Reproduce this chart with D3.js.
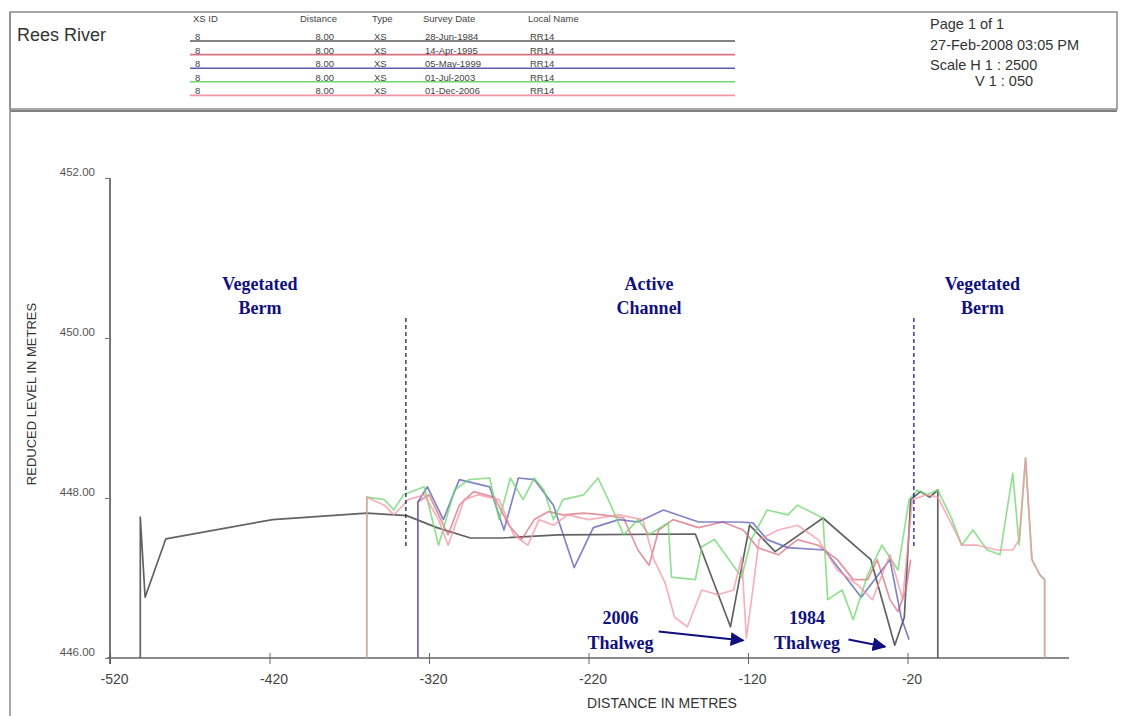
<!DOCTYPE html>
<html>
<head>
<meta charset="utf-8">
<script src="https://cdn.jsdelivr.net/npm/d3@7"></script>
<style>
  body { margin: 0; background: #fff; }
  svg { display: block; }
</style>
</head>
<body>
<div id="container"></div>
<script>
/* CONSTANTS AND GLOBALS */
const width = 1121,
      height = 716,
      margin = {top: 178, left: 110, bottom: 58, right: 49};

/* DATA */
const surveys = ["28-Jun-1984", "14-Apr-1995", "05-May-1999", "01-Jul-2003", "01-Dec-2006"];
const seriesColors = ["#5a5a5a", "#d9707f", "#5a5ab4", "#6fd56f", "#f295a4"];
const xsIds = ["8", "8", "8", "8", "8"];
const xsDistance = ["8.00", "8.00", "8.00", "8.00", "8.00"];
const xsType = ["XS", "XS", "XS", "XS", "XS"];
const localNames = ["RR14", "RR14", "RR14", "RR14", "RR14"];

const xTicks = [-520, -420, -320, -220, -120, -20];
const yTicks = [446, 448, 450, 452];

// 1984 survey
const dist1984 = [-501, -501, -498, -485, -418, -359, -334, -315, -294, -275, -239, -153, -131, -119, -103, -73, -43, -28, -22, -18, -12, -6, -1, -1];
const elev1984 = [446.00, 447.76, 446.76, 447.49, 447.73, 447.81, 447.78, 447.63, 447.50, 447.50, 447.54, 447.55, 446.39, 447.66, 447.33, 447.75, 447.23, 446.16, 446.51, 447.98, 448.08, 448.01, 448.10, 446.00];

// 1995 survey
const dist1995 = [-327, -327, -320, -314, -308, -301, -292, -279, -270, -262, -254, -245, -236, -223, -211, -198, -189, -182, -176, -167, -151, -136, -123, -114, -101, -89, -76, -64, -54, -45, -39, -31, -26, -21, -18];
const elev1995 = [446.00, 447.95, 448.04, 447.79, 447.54, 447.91, 448.08, 448.01, 447.66, 447.48, 447.73, 447.83, 447.79, 447.81, 447.79, 447.75, 447.35, 447.16, 447.60, 447.73, 447.63, 447.70, 447.60, 447.38, 447.29, 447.48, 447.41, 447.23, 446.98, 446.98, 447.23, 446.73, 446.58, 446.85, 447.23];

// 1999 survey
const dist1999 = [-327, -327, -321, -311, -301, -282, -273, -264, -254, -242, -229, -217, -201, -189, -173, -151, -126, -117, -108, -95, -72, -49, -31, -24, -19];
const elev1999 = [446.00, 447.95, 448.14, 447.73, 448.23, 448.14, 447.60, 448.25, 448.23, 447.91, 447.13, 447.63, 447.73, 447.70, 447.85, 447.70, 447.70, 447.69, 447.48, 447.38, 447.35, 446.76, 447.23, 446.51, 446.23];

// 2003 survey
const dist2003 = [-359, -359, -348, -342, -336, -323, -314, -304, -295, -282, -276, -269, -261, -254, -248, -242, -236, -223, -214, -206, -198, -189, -182, -170, -168, -153, -149, -141, -124, -118, -108, -95, -89, -73, -70, -61, -54, -45, -36, -26, -19, -14, -8, -1, 8, 14, 21, 30, 38, 46, 50, 54, 58, 63, 66, 66];
const elev2003 = [446.00, 448.01, 447.98, 447.85, 448.04, 448.14, 447.41, 448.10, 448.23, 448.25, 447.73, 448.25, 447.98, 448.25, 448.10, 447.73, 447.98, 448.04, 448.25, 447.91, 447.54, 447.73, 447.54, 447.69, 447.01, 446.98, 447.39, 447.48, 447.01, 447.48, 447.85, 447.79, 447.91, 447.75, 446.73, 446.85, 446.48, 447.04, 447.41, 447.10, 447.98, 448.10, 448.04, 448.10, 447.73, 447.41, 447.60, 447.35, 447.29, 448.31, 447.41, 448.50, 447.23, 447.04, 446.98, 446.00];

// 2006 survey
const dist2006 = [-359, -359, -348, -342, -333, -323, -314, -308, -298, -289, -276, -267, -258, -251, -242, -233, -220, -201, -186, -179, -172, -166, -158, -149, -139, -129, -124, -121, -117, -113, -101, -89, -76, -64, -51, -42, -31, -23, -17, -8, -1, 8, 14, 24, 36, 46, 50, 54, 58, 63, 66, 66];
const elev2006 = [446.00, 448.01, 447.91, 447.79, 447.98, 448.04, 447.73, 447.41, 447.98, 448.04, 447.98, 447.54, 447.41, 447.73, 447.66, 447.79, 447.73, 447.79, 447.73, 447.23, 446.94, 446.51, 446.39, 446.85, 446.79, 446.85, 447.26, 446.25, 446.85, 447.48, 447.60, 447.66, 447.48, 447.10, 446.91, 446.73, 447.29, 446.73, 447.98, 448.04, 448.01, 447.66, 447.41, 447.41, 447.35, 447.35, 447.48, 448.50, 447.23, 447.04, 446.98, 446.00];

// zone boundaries and labels
const zoneBounds = [-334.5, -16];
const zoneTop = 450.25;
const zoneBottom = [447.40, 447.38];
const zoneLabels = [["Vegetated", "Berm"], ["Active", "Channel"], ["Vegetated", "Berm"]];
const zoneLabelX = [-426, -182, 27];
const zoneLabelY = 450.6;

// thalweg notes: label position, arrow start, arrow tip
const thalwegLabels = [["2006", "Thalweg"], ["1984", "Thalweg"]];
const thalwegLabelX = [-200, -83];
const thalwegArrowFrom = [[-176, 446.33], [-57, 446.23]];
const thalwegArrowTo = [[-123, 446.22], [-34, 446.14]];

const allSeries = [
  {dist: dist1984, elev: elev1984},
  {dist: dist1995, elev: elev1995},
  {dist: dist1999, elev: elev1999},
  {dist: dist2003, elev: elev2003},
  {dist: dist2006, elev: elev2006}
].map((s, i) => ({
  name: surveys[i],
  color: seriesColors[i],
  values: s.dist.map((d, j) => ({dist: d, elev: s.elev[j]}))
}));

/* SVG */
const svg = d3.select("#container")
              .append("svg")
              .attr("width", width)
              .attr("height", height)
              .style("font-family", "'Liberation Sans', Arial, sans-serif");

// page frame and header box
svg.append("rect")
   .attr("x", 10).attr("y", 12)
   .attr("width", 1107).attr("height", 97)
   .attr("fill", "none")
   .attr("stroke", "#8a8a8a")
   .attr("stroke-width", 1.5);
svg.append("line")
   .attr("x1", 10).attr("x2", 1117).attr("y1", 111).attr("y2", 111)
   .attr("stroke", "#555").attr("stroke-width", 1.5);
svg.append("line")
   .attr("x1", 10).attr("x2", 10).attr("y1", 12).attr("y2", height)
   .attr("stroke", "#8a8a8a").attr("stroke-width", 1.5);

svg.append("text")
   .attr("x", 17).attr("y", 41)
   .attr("font-size", 18)
   .attr("fill", "#333")
   .text("Rees River");

// header legend table
const cols = [
  {title: "XS ID", x: 193, anchor: "start", vals: xsIds},
  {title: "Distance", x: 300, anchor: "start", vals: xsDistance, valX: 334, valAnchor: "end"},
  {title: "Type", x: 372, anchor: "start", vals: xsType},
  {title: "Survey Date", x: 423, anchor: "start", vals: surveys},
  {title: "Local Name", x: 528, anchor: "start", vals: localNames}
];

const legend = svg.append("g").attr("font-size", 9.5).attr("fill", "#444");

legend.selectAll("line.row")
      .data(allSeries)
      .join("line")
      .attr("class", "row")
      .attr("x1", 190).attr("x2", 735)
      .attr("y1", (d, i) => 41 + i * 13.6)
      .attr("y2", (d, i) => 41 + i * 13.6)
      .attr("stroke", d => d.color)
      .attr("stroke-width", 1.6);

cols.forEach(c => {
  legend.append("text")
        .attr("x", c.x).attr("y", 22)
        .attr("text-anchor", c.anchor)
        .text(c.title);
  legend.selectAll(null)
        .data(c.vals)
        .join("text")
        .attr("x", c.valX || c.x + 2)
        .attr("y", (d, i) => 40 + i * 13.6)
        .attr("text-anchor", c.valAnchor || "start")
        .text(d => d);
});

const info = svg.append("g").attr("font-size", 14.5).attr("fill", "#333");
info.append("text").attr("x", 930).attr("y", 29).text("Page 1 of 1");
info.append("text").attr("x", 930).attr("y", 50).text("27-Feb-2008 03:05 PM");
info.append("text").attr("x", 930).attr("y", 70).text("Scale H 1 : 2500");
info.append("text").attr("x", 975).attr("y", 86).text("V 1 : 050");

/* SCALES */
const xScale = d3.scaleLinear()
                 .domain([-520, 81.25])
                 .range([margin.left, width - margin.right - 3]);

const yScale = d3.scaleLinear()
                 .domain([446, 452])
                 .range([height - margin.bottom, margin.top]);

/* AXES */
const xAxis = d3.axisBottom(xScale)
                .tickValues(xTicks)
                .tickFormat(d => String(d))
                .tickSizeInner(6)
                .tickSizeOuter(0)
                .tickPadding(10);

const yAxis = d3.axisLeft(yScale)
                .tickValues(yTicks)
                .tickFormat(d => d.toFixed(2))
                .tickSizeInner(5)
                .tickSizeOuter(0)
                .tickPadding(10);

const gx = svg.append("g")
              .attr("transform", `translate(0,${height - margin.bottom})`)
              .call(xAxis);
gx.select(".domain")
  .attr("d", `M${margin.left - 3},0H${width - margin.right - 3}`)
  .attr("stroke", "#8c8c8c")
  .attr("stroke-width", 2);
gx.selectAll(".tick line").attr("y1", -5).attr("y2", 6).attr("stroke", "#666");
gx.selectAll(".tick text")
  .attr("font-size", 14)
  .attr("fill", "#444")
  .attr("font-family", "'Liberation Sans Narrow', 'Liberation Sans', Arial, sans-serif")
  .attr("dx", 4);

const gy = svg.append("g")
              .attr("transform", `translate(${margin.left},0)`)
              .call(yAxis);
gy.select(".domain")
  .attr("d", `M0,${margin.top}V${height - margin.bottom + 6}`)
  .attr("stroke", "#555")
  .attr("stroke-width", 1.6);
gy.selectAll(".tick line").attr("stroke", "#777");
gy.selectAll(".tick text")
  .attr("font-size", 11.5)
  .attr("fill", "#555")
  .attr("dy", "-0.25em");

svg.append("text")
   .attr("transform", "translate(36,394) rotate(-90)")
   .attr("text-anchor", "middle")
   .attr("font-size", 13)
   .attr("fill", "#333")
   .text("REDUCED LEVEL IN METRES");

svg.append("text")
   .attr("x", 662).attr("y", 708)
   .attr("text-anchor", "middle")
   .attr("font-size", 14)
   .attr("fill", "#333")
   .attr("font-family", "'Liberation Sans Narrow', 'Liberation Sans', Arial, sans-serif")
   .text("DISTANCE IN METRES");

/* LINES */
const lineGen = d3.line()
                  .x(d => xScale(d.dist))
                  .y(d => yScale(d.elev));

svg.selectAll("path.survey")
   .data(allSeries)
   .join("path")
   .attr("class", "survey")
   .attr("fill", "none")
   .attr("stroke", d => d.color)
   .attr("stroke-width", 1.7)
   .attr("stroke-opacity", (d, i) => i === 0 ? 0.95 : 0.75)
   .attr("stroke-linejoin", "round")
   .attr("d", d => lineGen(d.values));

/* ZONES */
svg.selectAll("line.zone")
   .data(zoneBounds)
   .join("line")
   .attr("class", "zone")
   .attr("x1", d => xScale(d)).attr("x2", d => xScale(d))
   .attr("y1", yScale(zoneTop))
   .attr("y2", (d, i) => yScale(zoneBottom[i]))
   .attr("stroke", (d, i) => i === 0 ? "#222244" : "#1a1aa0")
   .attr("stroke-width", 1.3)
   .attr("stroke-dasharray", "4,3");

const noteStyle = sel => sel
  .attr("text-anchor", "middle")
  .attr("font-family", "'Liberation Serif', 'Times New Roman', serif")
  .attr("font-weight", "bold")
  .attr("font-size", 18)
  .attr("fill", "#10107e");

zoneLabels.forEach((lines, i) => {
  const t = svg.append("text").call(noteStyle)
               .attr("x", xScale(zoneLabelX[i]))
               .attr("y", yScale(zoneLabelY));
  lines.forEach((l, j) => {
    t.append("tspan").attr("x", xScale(zoneLabelX[i])).attr("dy", j ? 24 : 0).text(l);
  });
});

svg.append("defs").append("marker")
   .attr("id", "arrow")
   .attr("viewBox", "0 0 10 10")
   .attr("refX", 9).attr("refY", 5)
   .attr("markerWidth", 7).attr("markerHeight", 7)
   .attr("orient", "auto")
   .append("path")
   .attr("d", "M0,0L10,5L0,10Z")
   .attr("fill", "#10107e");

thalwegLabels.forEach((lines, i) => {
  const t = svg.append("text").call(noteStyle)
               .attr("x", xScale(thalwegLabelX[i]))
               .attr("y", yScale(446.42));
  lines.forEach((l, j) => {
    t.append("tspan").attr("x", xScale(thalwegLabelX[i])).attr("dy", j ? 25 : 0).text(l);
  });
  svg.append("line")
     .attr("x1", xScale(thalwegArrowFrom[i][0])).attr("y1", yScale(thalwegArrowFrom[i][1]))
     .attr("x2", xScale(thalwegArrowTo[i][0])).attr("y2", yScale(thalwegArrowTo[i][1]))
     .attr("stroke", "#10107e")
     .attr("stroke-width", 2)
     .attr("marker-end", "url(#arrow)");
});
</script>
</body>
</html>
